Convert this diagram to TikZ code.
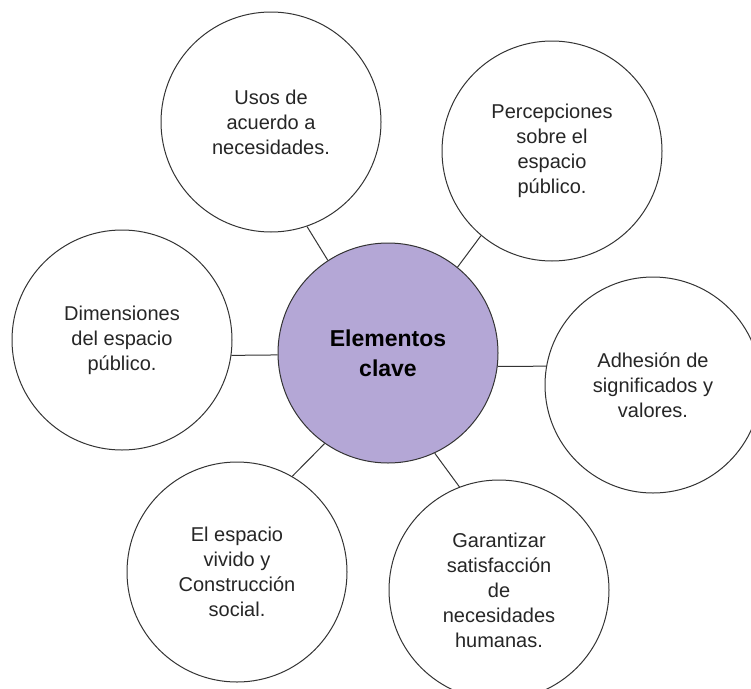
\documentclass[tikz,border=0pt]{standalone}
\usepackage{fontspec}
\setmainfont{Liberation Sans}
\definecolor{clavefill}{HTML}{B4A7D6}
\definecolor{ringgray}{HTML}{333333}

\begin{document}
\begin{tikzpicture}[x=1pt,y=-1pt,
    bubble/.style={shape=circle,draw=ringgray,line width=1pt,fill=white,minimum size=220pt,inner sep=0pt,align=center,text=black!85,font=\fontsize{20}{25}\selectfont},
    link/.style={draw=ringgray,line width=1pt}]
    \useasboundingbox (0,0) rectangle (751,688);
    \node[bubble,fill=clavefill,text=black,font=\bfseries\fontsize{23}{30}\selectfont] (c) at (388,353) {Elementos\\clave};
     \node[bubble] (u) at (271,122) {Usos de\\acuerdo a\\necesidades.};
      \node[bubble] (p) at (552,151) {Percepciones\\sobre el\\espacio\\público.};
       \node[bubble] (d) at (122,340) {Dimensiones\\del espacio\\público.};
    \node[bubble,minimum size=216pt] (a) at (653,385) {Adhesión de\\significados y\\valores.};
    \node[bubble] (e) at (237,572) {El espacio\\vivido y\\Construcción\\social.};
    \node[bubble] (g) at (499,590) {Garantizar\\satisfacción\\de\\necesidades\\humanas.};
    \path [link] (u.-71) -- (c.123);
    \path [link] (p.-130) -- (c.51);
    \path [link] (d.-8) -- (c.181);
    \path [link] (c.-7) -- (a.170);
    \path [link] (c.-125) -- (e.60);
    \path [link] (c.-65) -- (g.111);
\end{tikzpicture}
\end{document}
